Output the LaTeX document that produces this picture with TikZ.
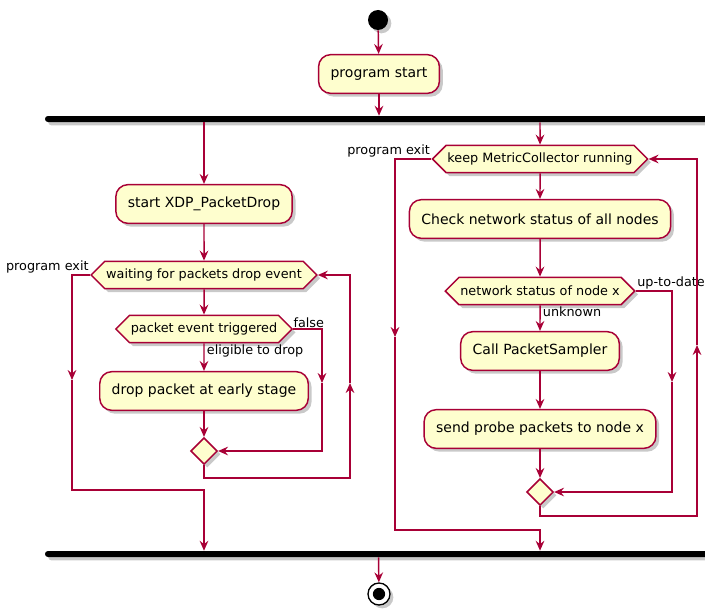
\documentclass[tikz,border=0pt]{standalone}
\usepackage{fontspec}
\setmainfont{DejaVu Sans}
\usetikzlibrary{arrows.meta,shapes.geometric,shapes.symbols,shadows}
\definecolor{edge}{HTML}{A80036}
\definecolor{act}{HTML}{FEFECE}

\begin{document}
\begin{tikzpicture}[x=0.75pt,y=-0.75pt,
  wire/.style={draw=edge, line width=1.1pt},
  flow/.style={wire, -{Stealth[length=7.5pt,width=6.5pt,inset=2.6pt]}},
  shade/.style={drop shadow={opacity=0.3, shadow xshift=2.5pt, shadow yshift=-2.5pt, fill=black!70}},
  action/.style={rectangle, rounded corners=9pt, draw=edge, fill=act, line width=1.1pt,
    font=\fontsize{10.5}{12}\selectfont, inner xsep=9pt, minimum height=29pt, shade},
  test/.style={signal, signal to=west and east, draw=edge, fill=act, line width=1.1pt,
    font=\fontsize{9.6}{11}\selectfont, minimum height=20.5pt, inner xsep=1pt, inner ysep=0pt, shade},
  merge/.style={diamond, draw=edge, fill=act, line width=1.1pt, minimum width=20pt,
    minimum height=20pt, inner sep=0pt, shade},
  bar/.style={rectangle, fill=black, rounded corners=2.2pt, minimum height=4.5pt,
    minimum width=500.25pt, inner sep=0pt, shade},
  lbl/.style={font=\fontsize{9.6}{11}\selectfont, inner sep=1pt}
]
\useasboundingbox (0,0) rectangle (705,610);

% start, first action and fork
\node[circle, fill=black, minimum size=15pt, inner sep=0pt, shade] (start) at (378,20) {};
\node[action] (pstart) at (379,74) {program start};
\node[bar] (fork) at (378.5,119) {};

% left branch: XDP packet drop loop
\node[action] (xdp) at (204,204) {start XDP\_PacketDrop};
\node[test] (wait) at (204,275) {waiting for packets drop event};
\node[test] (trig) at (204,329) {packet event triggered};
\node[action] (drop) at (204,391) {drop packet at early stage};
\node[merge] (m1) at (204,451) {};

% right branch: metric collector loop
\node[test] (keep) at (540,159) {keep MetricCollector running};
\node[action] (check) at (540,219) {Check network status of all nodes};
\node[test] (status) at (540,291) {network status of node x};
\node[action] (call) at (540,351) {Call PacketSampler};
\node[action] (probe) at (540,429) {send probe packets to node x};
\node[merge] (m2) at (540,492) {};

% join and stop
\node[bar] (join) at (378.5,554) {};
\node[circle, draw=black, fill=white, line width=1pt, minimum size=16.5pt, inner sep=0pt, shade,
  path picture={\fill[black] (path picture bounding box.center) circle (4.6pt);}] (stop) at (379,594) {};

% branch labels
\node[lbl, anchor=south east] (lexit) at (wait.west) {program exit};
\node[lbl, anchor=south west] (lfalse) at ([xshift=-1pt]trig.east) {false};
\node[lbl, anchor=north west] (lelig) at ([xshift=1pt]trig.south) {eligible to drop};
\node[lbl, anchor=south east] (rexit) at (keep.west) {program exit};
\node[lbl, anchor=south west] (rupd) at (status.east) {up-to-date};
\node[lbl, anchor=north west] (runk) at ([xshift=1pt]status.south) {unknown};

% routing points
\coordinate (fdown) at (322,383);
\coordinate (lcorner) at (350,478);
\coordinate (lup) at (350,383);
\coordinate (ldown) at (72,380);
\coordinate (lbottom) at (72,490);
\coordinate (udown) at (672,382);
\coordinate (rcorner) at (697,516);
\coordinate (rup) at (697,345);
\coordinate (rdown) at (395,337);
\coordinate (rbottom) at (395,530);

% main flow
\draw[flow] (start) -- (pstart);
\draw[flow] (pstart) -- (pstart |- fork.north);
\draw[flow] (fork.south -| xdp) -- (xdp);
\draw[flow] (fork.south -| keep) -- (keep);

% left branch flow
\draw[flow] (xdp) -- (wait);
\draw[flow] (wait) -- (trig);
\draw[flow] (trig) -- (drop);
\draw[flow] (drop) -- (m1);
\draw[flow] (trig.east) -| (fdown);
\draw[flow] (fdown) |- (m1.east);
\draw[flow] (m1.south) |- (lcorner) -- (lup);
\draw[flow] (lup) |- (wait.east);
\draw[flow] (wait.west) -| (ldown);
\draw[flow] (ldown) -- (lbottom) -| (join.north -| xdp);

% right branch flow
\draw[flow] (keep) -- (check);
\draw[flow] (check) -- (status);
\draw[flow] (status) -- (call);
\draw[flow] (call) -- (probe);
\draw[flow] (probe) -- (m2);
\draw[flow] (status.east) -| (udown);
\draw[flow] (udown) |- (m2.east);
\draw[flow] (m2.south) |- (rcorner) -- (rup);
\draw[flow] (rup) |- (keep.east);
\draw[flow] (keep.west) -| (rdown);
\draw[flow] (rdown) -- (rbottom) -| (join.north -| check);

% to the end
\draw[flow] (join) -- (stop);
\end{tikzpicture}
\end{document}
